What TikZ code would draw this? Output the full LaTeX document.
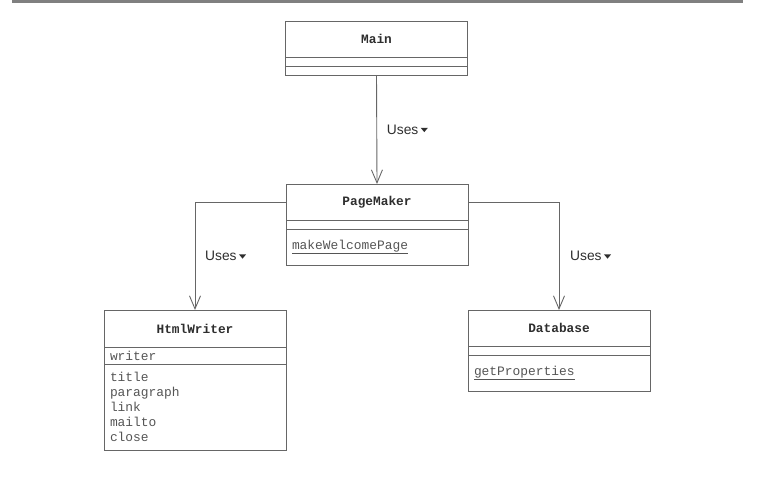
\documentclass[tikz,border=0pt]{standalone}
\usepackage{fontspec}
\setmainfont{Liberation Sans}
\setmonofont{Liberation Mono}
\usepackage{xcolor}
\usetikzlibrary{positioning, arrows.meta}

\definecolor{umlline}{HTML}{666666}
\definecolor{umltext}{HTML}{2E2E2E}
\definecolor{umlmember}{HTML}{555555}

\newcommand{\usesmark}{\,\tikz[baseline]\fill[umltext] (0,0.46em) -- (0.52em,0.46em) -- (0.26em,0.15em) -- cycle;}

\begin{document}
\begin{tikzpicture}[x=1pt, y=-1pt,
  classname/.style={draw=umlline, line width=0.9pt, minimum width=182pt, minimum height=36pt,
    inner sep=0pt, outer sep=0pt, text=umltext,
    font=\ttfamily\bfseries\fontsize{12.8}{15}\selectfont},
  compart/.style={draw=umlline, line width=0.9pt, minimum width=182pt, minimum height=9pt,
    inner sep=0pt, outer sep=0pt},
  members/.style={compart, inner xsep=6pt, text width=170pt, align=left, text=umlmember,
    font=\ttfamily\fontsize{12.9}{15}\selectfont},
  uses/.style={draw=umlline, line width=0.9pt, -{Straight Barb[length=13pt, width=11pt]}},
  useslabel/.style={inner sep=0pt, text=umltext, font=\fontsize{13.8}{16}\selectfont}]
\useasboundingbox (0,0) rectangle (778,479);
\draw[line width=2.5pt, gray] (12,1.5) -- (743,1.5);

% Main
\node[classname] (mainname) at (376.5,39) {Main};
\node[compart, below=0pt of mainname] (mainattr) {};
\node[compart, below=0pt of mainattr] (mainops) {};

% PageMaker
\node[classname] (pmname) at (377,202) {PageMaker};
\node[compart, below=0pt of pmname] (pmattr) {};
\node[members, minimum height=36pt, below=0pt of pmattr] (pmops) {\underline{makeWelcomePage}};

% HtmlWriter
\node[classname, minimum height=37pt] (hwname) at (195,328.5) {HtmlWriter};
\node[members, minimum height=17pt, below=0pt of hwname] (hwattr) {writer};
\node[members, minimum height=86pt, below=0pt of hwattr] (hwops) {title\\paragraph\\link\\mailto\\close};

% Database
\node[classname] (dbname) at (559,328) {Database};
\node[compart, below=0pt of dbname] (dbattr) {};
\node[members, minimum height=36pt, below=0pt of dbattr] (dbops) {\underline{getProperties}};

% associations
\draw[uses] (mainops.south) -- node[useslabel, right=10pt] {Uses\usesmark} (pmname.north);
\draw[uses] (pmname.west) -| node[useslabel, pos=0.75, right=10pt] {Uses\usesmark} (hwname.north);
\draw[uses] (pmname.east) -| node[useslabel, pos=0.75, right=11pt] {Uses\usesmark} (dbname.north);
\end{tikzpicture}
\end{document}
